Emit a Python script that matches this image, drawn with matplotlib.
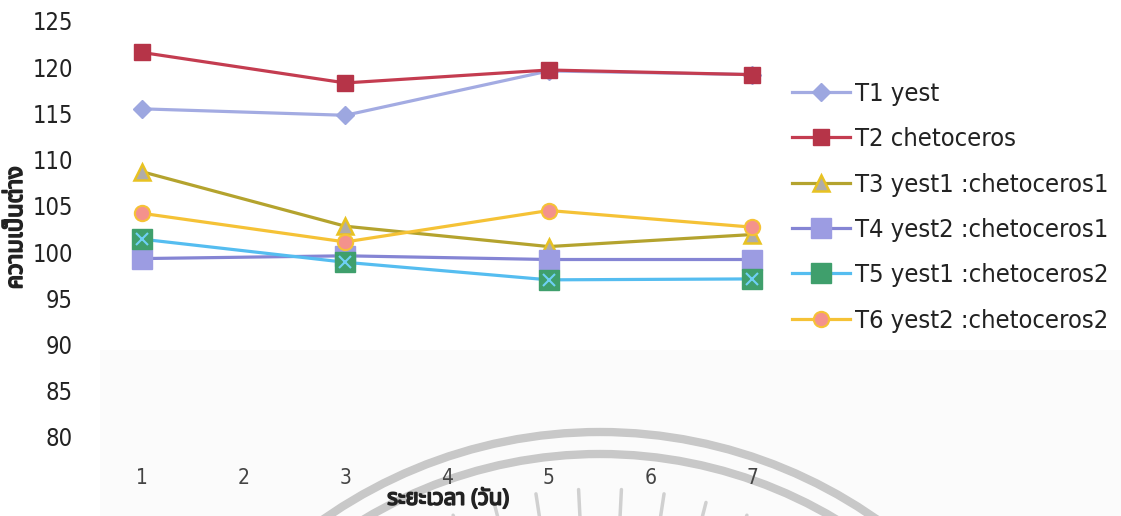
import matplotlib
matplotlib.use("Agg")
import matplotlib.pyplot as plt
from matplotlib import font_manager as fm
from matplotlib.ft2font import FT2Font
from matplotlib.patches import Arc, Rectangle
import matplotlib.patheffects as pe
import numpy as np

# ---- data -------------------------------------------------------------
days = [1, 3, 5, 7]
t1_yest = [115.5, 114.8, 119.6, 119.2]
t2_chetoceros = [121.6, 118.3, 119.7, 119.2]
t3_y1c1 = [108.7, 102.8, 100.6, 101.9]
t4_y2c1 = [99.3, 99.6, 99.2, 99.2]
t5_y1c2 = [101.4, 98.9, 97.0, 97.1]
t6_y2c2 = [104.2, 101.1, 104.5, 102.7]

labels = ["T1 yest", "T2 chetoceros", "T3 yest1 :chetoceros1",
          "T4 yest2 :chetoceros1", "T5 yest1 :chetoceros2",
          "T6 yest2 :chetoceros2"]
x_ticks = [1, 2, 3, 4, 5, 6, 7]
y_ticks = [80, 85, 90, 95, 100, 105, 110, 115, 120, 125]
x_title = "ระยะเวลา (วัน)"
y_title = "ความเป็นต่าง"


def thai_family():
    names = []
    for f in fm.fontManager.ttflist:
        try:
            if 0x0E27 in FT2Font(f.fname).get_charmap():
                names.append(f.name)
        except Exception:
            pass
    for pref in ("Noto Sans Thai", "Loma", "Garuda", "Tlwg Typo"):
        if pref in names:
            return pref
    return names[0] if names else "DejaVu Sans"


THAI = thai_family()
COND = fm.FontProperties(family="DejaVu Sans", stretch="condensed")

W, H, DPI = 1121, 516, 100
fig = plt.figure(figsize=(W / DPI, H / DPI), dpi=DPI)

# watermark layer in pixel coordinates
bg = fig.add_axes([0, 0, 1, 1], zorder=0)
bg.set_xlim(0, W)
bg.set_ylim(H, 0)
bg.axis("off")
bg.add_patch(Rectangle((100, 350), W - 100, H - 350, color="#fbfbfb", lw=0))
cx, cy = 600, 914
for r in (482, 460):
    bg.add_patch(Arc((cx, cy), 2 * r, 2 * r, theta1=180, theta2=360,
                     color="#c8c8c8", lw=6))
for ang in np.linspace(-26, 26, 10):
    a = np.deg2rad(ang)
    r0, r1 = 395, 425
    bg.plot([cx + r0 * np.sin(a), cx + r1 * np.sin(a)],
            [cy - r0 * np.cos(a), cy - r1 * np.cos(a)],
            color="#d0d0d0", lw=2.5, solid_capstyle="round")

# main plot area
left, right, top, bottom = 91, 803, 21, 437
ax = fig.add_axes([left / W, 1 - bottom / H, (right - left) / W,
                   (bottom - top) / H], zorder=1)
ax.patch.set_alpha(0)

styles = [
    dict(color="#a3abe2", marker="D", ms=9, mfc="#9da7e0", mec="#9da7e0"),
    dict(color="#c43c50", marker="s", ms=12, mfc="#b63448", mec="#b63448"),
    dict(color="#b4a32e", marker="^", ms=12, mfc="#b0aca8", mec="#e8c222",
         mew=1.8),
    dict(color="#8585d4", marker="s", ms=14, mfc="#9c9ce2", mec="#9c9ce2"),
    dict(color="#55bdf0", marker="s", ms=14, mfc="#3f9f6c", mec="#3f9f6c"),
    dict(color="#f5c236", marker="o", ms=11, mfc="#f4928c", mec="#f6c236",
         mew=1.5),
]
series = [t1_yest, t2_chetoceros, t3_y1c1, t4_y2c1, t5_y1c2, t6_y2c2]
handles = []
for vals, st, lab in zip(series, styles, labels):
    h, = ax.plot(days, vals, lw=2.3, label=lab, **st)
    handles.append(h)
    if lab.startswith("T5"):
        ax.plot(days, vals, ls="none", marker="x", ms=8, mew=1.5,
                color="#6fd0f5")

ax.set_xlim(0.5, 7.5)
ax.set_ylim(80, 125)
ax.set_xticks(x_ticks)
ax.set_yticks(y_ticks)
for s in ax.spines.values():
    s.set_visible(False)
ax.tick_params(length=0)
ax.tick_params(axis="y", pad=13)
ax.tick_params(axis="x", pad=22)
for t in ax.get_yticklabels():
    t.set_fontproperties(COND)
    t.set_fontsize(17)
    t.set_color("#222222")
for t in ax.get_xticklabels():
    t.set_fontproperties(COND)
    t.set_fontsize(15)
    t.set_color("#444444")

bold = [pe.withStroke(linewidth=1.2, foreground="#222222")]
fig.text(448 / W, 1 - 499 / H, x_title, family=[THAI, "DejaVu Sans"],
         fontweight="bold", fontsize=16, ha="center", va="center",
         color="#222222", path_effects=bold)
fig.text(16 / W, 1 - 228 / H, y_title, family=[THAI, "DejaVu Sans"],
         fontweight="bold", fontsize=17, ha="center", va="center",
         rotation=90, color="#222222", path_effects=bold)

leg = fig.legend(handles=handles, loc="upper left",
                 bbox_to_anchor=(769 / W, 1 - 59 / H),
                 frameon=False, handlelength=2.3, handletextpad=0.2,
                 labelspacing=0.84,
                 prop=fm.FontProperties(family="DejaVu Sans",
                                        stretch="condensed", size=18.3))
for t in leg.get_texts():
    t.set_color("#222222")

fig.savefig("out.png", dpi=DPI)
